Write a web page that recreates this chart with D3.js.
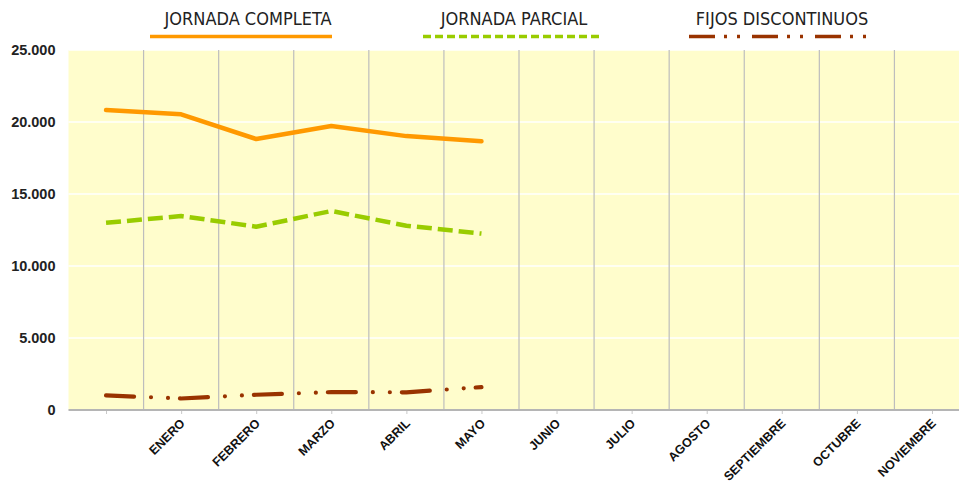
<!DOCTYPE html>
<html><head><meta charset="utf-8">
<script src="https://cdn.jsdelivr.net/npm/d3@7"></script>
<style>body{margin:0;background:#fff;}svg{display:block;}</style>
</head><body>
<svg id="c" width="959" height="485"></svg>
<script>
const categories = ["", "ENERO", "FEBRERO", "MARZO", "ABRIL", "MAYO", "JUNIO", "JULIO", "AGOSTO", "SEPTIEMBRE", "OCTUBRE", "NOVIEMBRE"];
const jornadaCompleta = [20830, 20530, 18820, 19720, 19020, 18660];
const jornadaParcial = [13000, 13470, 12730, 13820, 12800, 12250];
const fijosDiscontinuos = [1010, 800, 1060, 1240, 1230, 1590];
const yTicks = [0, 5000, 10000, 15000, 20000, 25000];
const seriesNames = ["JORNADA COMPLETA", "JORNADA PARCIAL", "FIJOS DISCONTINUOS"];

const svg = d3.select("#c");
const L = 68.5, R = 969.5, T = 50, B = 410;
const x = d3.scaleBand().domain(categories.map((d,i)=>i)).range([L, R]);
const y = d3.scaleLinear().domain([0, 25000]).range([B, T]);
const cx = i => x(i) + x.bandwidth()/2;

svg.append("rect").attr("x", L).attr("y", T).attr("width", R-L).attr("height", B-T).attr("fill", "#FFFDCC");

// horizontal gridlines
svg.append("g").selectAll("line").data(yTicks.filter(d=>d>0)).join("line")
  .attr("x1", L).attr("x2", R).attr("y1", d=>y(d)).attr("y2", d=>y(d))
  .attr("stroke", "#fff").attr("stroke-width", 1.5);
// vertical gridlines
svg.append("g").selectAll("line").data(categories.slice(1).map((d,i)=>i+1)).join("line")
  .attr("x1", d=>x(d)).attr("x2", d=>x(d)).attr("y1", T).attr("y2", B)
  .attr("stroke", "#BDBDBD").attr("stroke-width", 1.2);

// x axis
const xAxis = d3.axisBottom(d3.scalePoint().domain(categories.map((d,i)=>i)).range([cx(0), cx(categories.length-1)]))
  .tickSize(4).tickFormat(i => categories[i]);
const gx = svg.append("g").attr("transform", `translate(0,${B})`).call(xAxis);
gx.select(".domain").remove();
gx.selectAll(".tick line").attr("stroke", "#C8C8C8").attr("stroke-width", 1);
gx.selectAll(".tick text").attr("text-anchor", "end")
  .attr("font-family", "Liberation Sans, Arial, sans-serif").attr("font-weight", "bold")
  .attr("font-size", 12.5).attr("fill", "#111")
  .attr("transform", "translate(1,11) rotate(-45)").attr("dy", "0.35em").attr("y", 0);
svg.append("line").attr("x1", L).attr("x2", R).attr("y1", B).attr("y2", B)
  .attr("stroke", "#B5B5B5").attr("stroke-width", 2);

// y axis labels
const yAxis = d3.axisLeft(y).tickValues(yTicks).tickSize(0)
  .tickFormat(d => d === 0 ? "0" : d3.format(",")(d).replace(/,/g, "."));
const gy = svg.append("g").attr("transform", `translate(${L-13},0)`).call(yAxis);
gy.select(".domain").remove();
gy.selectAll(".tick text").attr("font-family", "Liberation Sans, Arial, sans-serif")
  .attr("font-weight", "bold").attr("font-size", 14.5).attr("fill", "#222").attr("x", 0);

// lines
const line = d3.line().x((d,i)=>cx(i)).y(d=>y(d));
svg.append("path").attr("d", line(jornadaCompleta)).attr("fill", "none")
  .attr("stroke", "#FF9900").attr("stroke-width", 4.5).attr("stroke-linejoin", "round").attr("stroke-linecap", "round");
svg.append("path").attr("d", line(jornadaParcial)).attr("fill", "none")
  .attr("stroke", "#99CC00").attr("stroke-width", 4.5).attr("stroke-dasharray", "15,6").attr("stroke-linejoin", "round");
svg.append("path").attr("d", line(fijosDiscontinuos)).attr("fill", "none")
  .attr("stroke", "#993300").attr("stroke-width", 4.2).attr("stroke-linecap", "round")
  .attr("stroke-dasharray", "28,17,0,17,0,12").attr("stroke-linejoin", "round");

// legend
const legFont = "Liberation Sans Narrow, DejaVu Sans Condensed, Arial Narrow, sans-serif";
const legend = [
  {name: seriesNames[0], x1: 150, x2: 332, tx: 248, color: "#FF9900", dash: null},
  {name: seriesNames[1], x1: 423, x2: 603, tx: 514, color: "#99CC00", dash: "8,4"},
  {name: seriesNames[2], x1: 689, x2: 869, tx: 782, color: "#993300", dash: "26,9,3,10,3,12"}
];
const lg = svg.append("g");
legend.forEach(d => {
  lg.append("text").attr("x", d.tx).attr("y", 25).attr("text-anchor", "middle")
    .attr("font-family", legFont).attr("font-size", 18).attr("fill", "#222").text(d.name);
  const l = lg.append("line").attr("x1", d.x1).attr("x2", d.x2).attr("y1", 36.5).attr("y2", 36.5)
    .attr("stroke", d.color).attr("stroke-width", 3.7).attr("stroke-linecap", "butt");
  if (d.dash) l.attr("stroke-dasharray", d.dash);
});
</script>
</body></html>
